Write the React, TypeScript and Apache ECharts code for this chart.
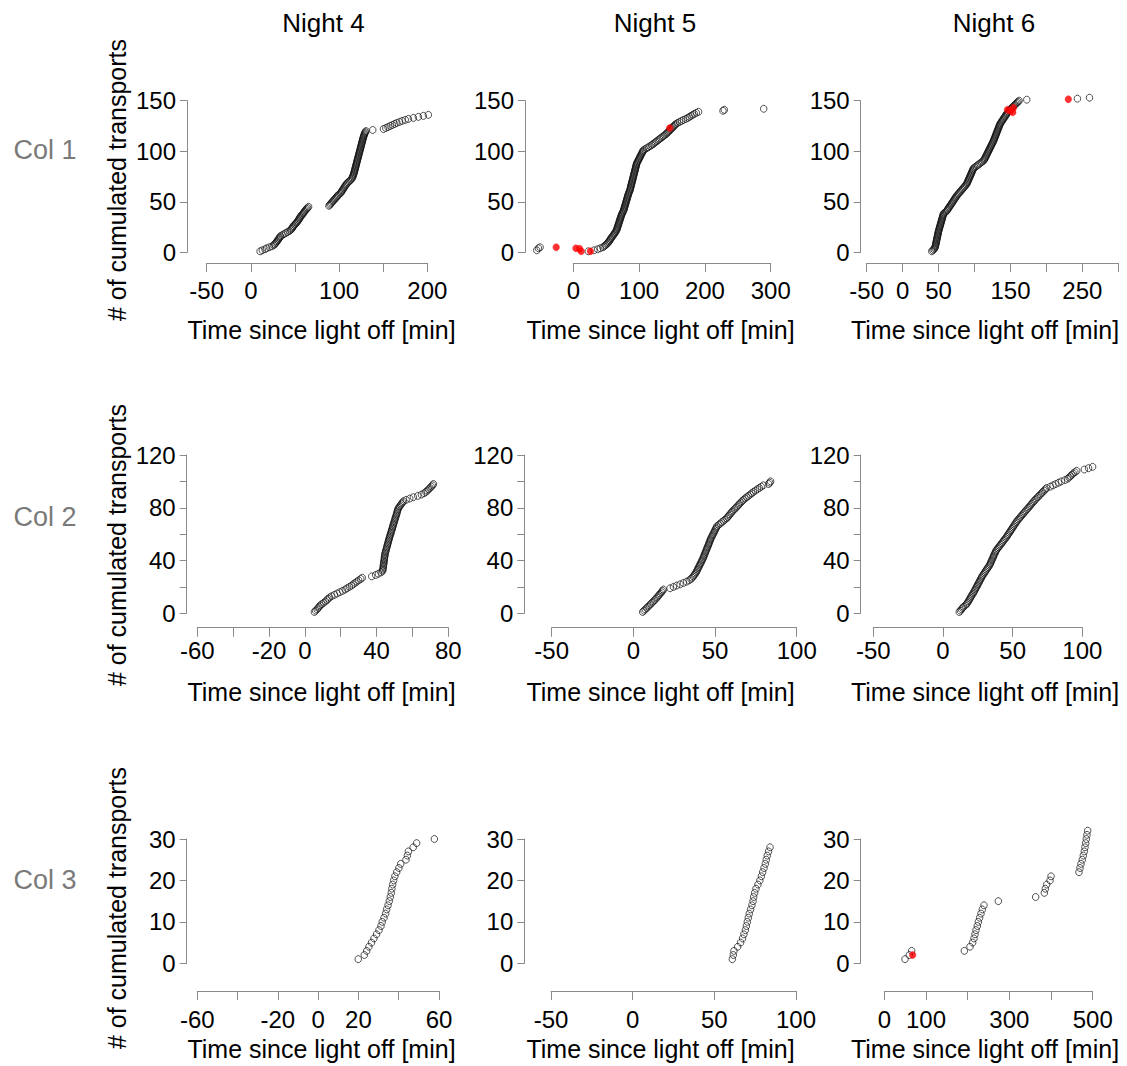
import React, { useEffect, useRef } from 'react';
import * as echarts from 'echarts';

// ---------------- DATA ----------------
const nightHeaders = ['Night 4', 'Night 5', 'Night 6'];
const colonyLabels = ['Col 1', 'Col 2', 'Col 3'];
const xAxisTitle = 'Time since light off [min]';
const yAxisTitle = '# of cumulated transports';

// [time since light off (min), cumulated transports]
const n4c1 = [[10.5,1],[13,2],[16,3],[18,4],[21,5],[24,6],[26,7],[27,8],[28,9],[29,10],[29.8,11],[30.6,12],[31.4,13],[32.2,14],[33,15],[33.6,16],[35.5,17],[37.5,18],[39.5,19],[41.5,20],[43.5,21],[45,22],[46,23],[47,24],[47.6,25],[48.2,26],[49.5,27],[50.5,28],[51.5,29],[52.5,30],[53.3,31],[54,32],[54.8,33],[55.5,34],[56,35],[57,36],[58,37],[59,38],[59.8,39],[60.5,40],[61.3,41],[62.3,42],[63.3,43],[64.3,44],[65.5,45],
[88.5,46],[89.5,47],[90.5,48],[91.5,49],[92.5,50],[93.5,51],[94.5,52],[95.5,53],[96.5,54],[97.5,55],[98.5,56],[99.5,57],[101,58],[102,59],[102.8,60],[103.5,61],[104.2,62],[105,63],[105.7,64],[106.4,65],[107.2,66],[108,67],[108.8,68],[110,69],[111.2,70],[112.4,71],[113.6,72],[114.6,73],[115.2,74],[115.6,75],[116,76],[116.4,77],[116.8,78],[117.1,79],[117.4,80],[117.7,81],[118,82],[118.3,83],[118.6,84],[118.9,85],[119.2,86],[119.5,87],[119.8,88],[120.1,89],[120.4,90],[120.7,91],[121,92],[121.3,93],[121.6,94],[121.9,95],[122.2,96],[122.5,97],[122.8,98],[123.1,99],[123.4,100],[123.7,101],[124,102],[124.3,103],[124.6,104],[124.9,105],[125.2,106],[125.5,107],[125.8,108],[126.1,109],[126.4,110],[126.7,111],[127,112],[127.3,113],[127.6,114],[128,115],[128.4,116],[128.8,117],[129.3,118],[129.8,119],[130.6,120],
[138.2,121],[150.3,122],[153,123],[155.5,124],[158,125],[160.5,126],[163,127],[165.5,128],[168.5,129],[171.5,130],[175,131],[178.6,132],[184.2,133],[189.9,134],[195.5,135],[201.2,136]];
const n4c1Red: number[][] = [];

const n5c1 = [[-55.5,2],[-53,4],[-50.5,5],
[22.7,1],[31.4,2],[37,3],[41,4],[45,5],[47,6],[49,7],[50.5,8],[52,9],[53.5,10],[54.5,11],[55.5,12],[56.5,13],[57.5,14],[58.5,15],[59.7,16],[61,17],[62,18],[63,19],[64,20],[65,21],[65.8,22],[66.3,23],[66.8,24],[67.3,25],[67.8,26],[68.3,27],[68.8,28],[69.3,29],[69.8,30],[70.3,31],[70.8,32],[71.3,33],[71.8,34],[72.3,35],[72.8,36],[73.3,37],[74,38],[74.7,39],[75.5,40],[76.2,41],[76.7,42],[77.2,43],[77.6,44],[78,45],[78.5,46],[79,47],[79.4,48],[79.8,49],[80.3,50],[80.8,51],[81.2,52],[81.6,53],[82.1,54],[82.6,55],[83,56],[83.4,57],[83.9,58],[84.5,59],[85.2,60],[85.9,61],[86.3,62],[86.7,63],[87.1,64],[87.4,65],[87.8,66],[88.2,67],[88.6,68],[89,69],[89.4,70],[89.8,71],[90.2,72],[90.6,73],[91,74],[91.3,75],[91.7,76],[92.1,77],[92.5,78],[92.9,79],[93.3,80],[93.7,81],[94.1,82],[94.5,83],[94.8,84],[95.2,85],[95.6,86],[96,87],[96.4,88],[97.2,89],[98,90],[98.8,91],[99.5,92],[100.3,93],[101,94],[101.8,95],[102.6,96],[103.4,97],[104.2,98],[105,99],[105.7,100],[106.5,101],[109,102],[111.5,103],[114,104],[116.5,105],[119,106],[121,107],[123,108],[125,109],[127,110],[129,111],[131,112],[133,113],[135,114],[137,115],[139,116],[141,117],[142.5,118],[144,119],[145.5,120],[147,121],[148.5,122],[150,123],[151.5,124],[153,125],[154.5,126],[156,127],[158.5,128],[161.5,129],[164.5,130],[167.5,131],[171,132],[174,133],[176.5,134],[179,135],[181.5,136],[184,137],[187,138],[190.4,139],[227.5,140],[229.5,141],[289.4,142]];
const n5c1Red = [[-26,5],[4,4],[9.5,3.5],[12,1],[26,1],[146.5,123]];

const n6c1 = [[40.5,1],[42,2],[43.5,3],[44.5,4],[45.2,5],[45.5,6],[45.8,7],[46.1,8],[46.4,9],[46.7,10],[47,11],[47.3,12],[47.6,13],[47.9,14],[48.2,15],[48.5,16],[48.8,17],[49.1,18],[49.4,19],[49.7,20],[50,21],[50.4,22],[50.8,23],[51.2,24],[51.6,25],[52,26],[52.4,27],[52.8,28],[53.2,29],[53.6,30],[54,31],[54.4,32],[54.8,33],[55.2,34],[55.6,35],[56,36],[56.4,37],[56.8,38],[58.3,39],[59.8,40],[61.4,41],[62.3,42],[63.2,43],[64.1,44],[65,45],[66,46],[67,47],[67.9,48],[68.8,49],[69.7,50],[70.7,51],[71.6,52],[72.5,53],[73.4,54],[74.4,55],[75.3,56],[76.5,57],[77.7,58],[78.9,59],[80.1,60],[81.3,61],[82.5,62],[83.7,63],[84.9,64],[86.1,65],[87.3,66],[88.5,67],[89.4,68],[90,69],[90.6,70],[91.2,71],[91.8,72],[92.4,73],[93,74],[93.7,75],[94.3,76],[94.9,77],[95.5,78],[96.1,79],[96.7,80],[97.3,81],[97.9,82],[98.5,83],[100.3,84],[102.2,85],[104,86],[105.9,87],[107.7,88],[109.6,89],[111.4,90],[113,91],[113.7,92],[114.4,93],[115.1,94],[115.8,95],[116.5,96],[117.2,97],[117.9,98],[118.6,99],[119.3,100],[120,101],[120.7,102],[121.4,103],[122.1,104],[122.8,105],[123.5,106],[124.2,107],[124.9,108],[125.6,109],[126.3,110],[126.8,111],[127.4,112],[127.9,113],[128.5,114],[129,115],[129.6,116],[130.1,117],[130.6,118],[131.2,119],[131.7,120],[132.3,121],[132.8,122],[133.4,123],[133.9,124],[134.4,125],[135,126],[135.5,127],[136.4,128],[137.4,129],[138.3,130],[139.2,131],[140.2,132],[141.1,133],[142,134],[143,135],[143.9,136],[144.8,137],[146,138],[147.1,139],[148.3,140],[149.5,141],[150.6,142],[151.8,143],[153.3,144],[154.7,145],[156.2,146],[157.6,147],[159.1,148],[160.5,149],[162,150],[172.7,151],[243.1,152],[259.9,153]];
const n6c1Red = [[145.8,141],[150,140],[153.2,138.5],[154.1,143],[230.5,151.5]];

const n4c2 = [[5.3,1],[6,2],[6.8,3],[7.4,4],[8,5],[8.6,6],[9.5,7],[10.5,8],[11.5,9],[12.3,10],[13,11],[13.8,12],[15,13],[16.5,14],[18,15],[19.5,16],[21,17],[22.5,18],[23.5,19],[24.8,20],[26,21],[27,22],[28,23],[29,24],[30,25],[31.2,26],[32,27],[37.3,28],[39.5,29],[41,30],[42.5,31],[43.3,32],[43.5,33],[43.6,34],[43.7,35],[43.8,36],[43.9,37],[44,38],[44.1,39],[44.2,40],[44.3,41],[44.4,42],[44.5,43],[44.6,44],[44.7,45],[44.9,46],[45.1,47],[45.3,48],[45.5,49],[45.7,50],[45.9,51],[46.1,52],[46.3,53],[46.5,54],[46.7,55],[46.9,56],[47.1,57],[47.3,58],[47.5,59],[47.8,60],[48,61],[48.2,62],[48.4,63],[48.7,64],[48.9,65],[49.1,66],[49.3,67],[49.5,68],[49.8,69],[50,70],[50.2,71],[50.4,72],[50.6,73],[50.9,74],[51.1,75],[51.3,76],[51.5,77],[51.7,78],[52,79],[52.3,80],[52.8,81],[53.4,82],[53.9,83],[54.5,84],[55,85],[56.5,86],[58.5,87],[60.5,88],[63,89],[65,90],[66.5,91],[67.5,92],[68.3,93],[69,94],[69.8,95],[70.5,96],[71.2,97],[71.7,98]];

const n5c2 = [[5.7,1],[6.5,2],[7.3,3],[8.2,4],[9,5],[9.8,6],[10.6,7],[11.4,8],[12.2,9],[13,10],[13.8,11],[14.5,12],[15.2,13],[15.8,14],[16.5,15],[17.2,16],[17.8,17],[18.4,18],[22.5,19],[24.5,20],[26.5,21],[28.6,22],[30.6,23],[32.6,24],[34.2,25],[35.3,26],[36,27],[36.7,28],[37.3,29],[37.9,30],[38.4,31],[38.8,32],[39.2,33],[39.6,34],[40,35],[40.4,36],[40.8,37],[41.2,38],[41.6,39],[42,40],[42.4,41],[42.8,42],[43.1,43],[43.4,44],[43.7,45],[44,46],[44.4,47],[44.7,48],[45,49],[45.3,50],[45.7,51],[46,52],[46.3,53],[46.6,54],[46.9,55],[47.2,56],[47.6,57],[48,58],[48.4,59],[48.8,60],[49.2,61],[49.6,62],[50,63],[50.4,64],[50.8,65],[51.2,66],[52.2,67],[53.2,68],[54.1,69],[55.1,70],[56.1,71],[57.1,72],[57.8,73],[58.4,74],[59.1,75],[59.8,76],[60.4,77],[61.1,78],[62,79],[62.8,80],[63.5,81],[64.3,82],[65,83],[65.8,84],[66.6,85],[67.4,86],[68.4,87],[69.4,88],[70.4,89],[71.5,90],[72.5,91],[73.5,92],[74.7,93],[75.9,94],[77.1,95],[78.3,96],[79.6,97],[82.8,98],[83.5,99],[84,100]];

const n6c2 = [[11.7,1],[12.5,2],[13.3,3],[14,4],[14.8,5],[16,6],[17,7],[17.6,8],[18.2,9],[18.8,10],[19.3,11],[19.8,12],[20.4,13],[20.9,14],[21.6,15],[22.1,16],[22.6,17],[23.1,18],[23.6,19],[24.1,20],[24.6,21],[25.1,22],[25.6,23],[26.1,24],[26.6,25],[27.1,26],[27.6,27],[28.1,28],[28.7,29],[29.4,30],[30,31],[30.6,32],[31.2,33],[31.9,34],[32.5,35],[33.2,36],[33.8,37],[34.1,38],[34.5,39],[34.9,40],[35.4,41],[35.8,42],[36.2,43],[36.6,44],[37,45],[37.5,46],[37.9,47],[38.4,48],[39.2,49],[39.9,50],[40.6,51],[41.4,52],[42.1,53],[42.8,54],[43.5,55],[44.2,56],[45,57],[45.7,58],[46.3,59],[46.9,60],[47.6,61],[48.2,62],[48.8,63],[49.4,64],[50.1,65],[50.7,66],[51.3,67],[51.9,68],[52.6,69],[53.2,70],[54,71],[54.8,72],[55.6,73],[56.4,74],[57.2,75],[58,76],[58.8,77],[59.6,78],[60.5,79],[61.3,80],[62.1,81],[62.9,82],[63.7,83],[64.5,84],[65.3,85],[66.1,86],[67,87],[68,88],[68.9,89],[69.8,90],[70.7,91],[71.6,92],[72.6,93],[73.5,94],[74.4,95],[77,96],[79,97],[81,98],[83,99],[85,100],[87.5,101],[89.5,102],[90.5,103],[91.5,104],[92.5,105],[93.5,106],[94.7,107],[96,108],[101.5,109],[104.5,110],[107.4,111]];

const n4c3 = [[19.9,1],[22.9,2],[24.1,3],[25.2,4],[26.5,5],[27.7,6],[29,7],[30.2,8],[31.2,9],[31.8,10],[32.7,11],[33.5,12],[34,13],[34.7,14],[35.3,15],[35.8,16],[36.3,17],[36.6,18],[37,19],[37.5,20],[38.1,21],[39,22],[40.1,23],[41,24],[43.6,25],[44.3,26],[44.8,27],[47.2,28],[48.9,29],[57.7,30]];

const n5c3 = [[61,1],[61.6,2],[62,3],[64.3,4],[66.1,5],[67.3,6],[68.1,7],[69,8],[69.6,9],[70.2,10],[70.8,11],[71.4,12],[72.2,13],[73,14],[73.7,15],[74.1,16],[74.7,17],[75.5,18],[76.7,19],[77.9,20],[78.8,21],[79.6,22],[80.4,23],[81.2,24],[81.8,25],[82.4,26],[83.2,27],[84.1,28]];

const n6c3 = [[49.7,1],[60,2],[65.6,3],[192,3],[205.6,4],[212,5],[215.2,6],[217.6,7],[220,8],[223.2,9],[225.6,10],[228.8,11],[232,12],[235.2,13],[239.2,14],[273.6,15],[363.2,16],[384,17],[386.4,18],[389.6,19],[397.6,20],[400,21],[467.1,22],[469.5,23],[471.9,24],[475.1,25],[477.5,26],[479.9,27],[481.5,28],[483.1,29],[484.7,30],[486.3,31],[487.9,32]];
const n6c3Red = [[68,2]];

// axis ranges [min, max, tick step] and the tick labels that are printed
const xRangeN4C1 = [-50, 200, 50];  const xLabelsN4C1 = [-50, 0, 100, 200];
const xRangeN5C1 = [0, 300, 100];   const xLabelsN5C1 = [0, 100, 200, 300];
const xRangeN6C1 = [-50, 300, 50];  const xLabelsN6C1 = [-50, 0, 50, 150, 250];
const xRangeN4C2 = [-60, 80, 20];   const xLabelsN4C2 = [-60, -20, 0, 40, 80];
const xRangeN5C2 = [-50, 100, 50];  const xLabelsN5C2 = [-50, 0, 50, 100];
const xRangeN6C2 = [-50, 100, 50];  const xLabelsN6C2 = [-50, 0, 50, 100];
const xRangeN4C3 = [-60, 60, 20];   const xLabelsN4C3 = [-60, -20, 0, 20, 60];
const xRangeN5C3 = [-50, 100, 50];  const xLabelsN5C3 = [-50, 0, 50, 100];
const xRangeN6C3 = [0, 500, 100];   const xLabelsN6C3 = [0, 100, 300, 500];
const yRangeC1 = [0, 150, 50];  const yLabelsC1 = [0, 50, 100, 150];
const yRangeC2 = [0, 120, 20];  const yLabelsC2 = [0, 40, 80, 120];
const yRangeC3 = [0, 30, 10];   const yLabelsC3 = [0, 10, 20, 30];

// ---------------- LAYOUT ----------------
const FONT = '"Liberation Sans", Arial, Helvetica, sans-serif';
const AXIS_COLOR = '#8a8a8a';

const rowLayout = [
  { top: 100.7, height: 151.6, xOff: 10.7, xMargin: 15.5, labelY: 150, yTitleY: 180, xTitleY: 329.5 },
  { top: 455, height: 158.3, xOff: 14.4, xMargin: 10.5, labelY: 517, yTitleY: 545, xTitleY: 691.5 },
  { top: 839, height: 124.3, xOff: 27.7, xMargin: 16, labelY: 880, yTitleY: 908, xTitleY: 1049 },
];
const colTitleX = [321.5, 660.5, 985];
const headerX = [323.5, 655, 994];

const panels = [
  { row: 0, left: 206.7, width: 220.6, yOff: 19.7, xr: xRangeN4C1, xl: xLabelsN4C1, yr: yRangeC1, yl: yLabelsC1, data: n4c1, red: n4c1Red },
  { row: 0, left: 573.3, width: 197.4, yOff: 48.3, xr: xRangeN5C1, xl: xLabelsN5C1, yr: yRangeC1, yl: yLabelsC1, data: n5c1, red: n5c1Red },
  { row: 0, left: 866.7, width: 251.6, yOff: 6, xr: xRangeN6C1, xl: xLabelsN6C1, yr: yRangeC1, yl: yLabelsC1, data: n6c1, red: n6c1Red },
  { row: 1, left: 197.3, width: 251, yOff: 10.6, xr: xRangeN4C2, xl: xLabelsN4C2, yr: yRangeC2, yl: yLabelsC2, data: n4c2, red: [] },
  { row: 1, left: 551.7, width: 245, yOff: 27.4, xr: xRangeN5C2, xl: xLabelsN5C2, yr: yRangeC2, yl: yLabelsC2, data: n5c2, red: [] },
  { row: 1, left: 873.3, width: 209, yOff: 12.6, xr: xRangeN6C2, xl: xLabelsN6C2, yr: yRangeC2, yl: yLabelsC2, data: n6c2, red: [] },
  { row: 2, left: 197.3, width: 241.7, yOff: 10.6, xr: xRangeN4C3, xl: xLabelsN4C3, yr: yRangeC3, yl: yLabelsC3, data: n4c3, red: [] },
  { row: 2, left: 551, width: 245, yOff: 26.7, xr: xRangeN5C3, xl: xLabelsN5C3, yr: yRangeC3, yl: yLabelsC3, data: n5c3, red: [] },
  { row: 2, left: 884.3, width: 208.4, yOff: 23.6, xr: xRangeN6C3, xl: xLabelsN6C3, yr: yRangeC3, yl: yLabelsC3, data: n6c3, red: n6c3Red },
];

const labelFormatter = (shown: number[]) => (v: number) =>
  shown.some((s) => Math.abs(s - v) < 1e-6) ? String(Math.round(v)) : '';

function buildOption() {
  const grid = panels.map((p) => ({
    left: p.left,
    top: rowLayout[p.row].top,
    width: p.width,
    height: rowLayout[p.row].height,
    containLabel: false,
    outerBoundsMode: 'none',
  }));
  const xAxis = panels.map((p, i) => ({
    type: 'value',
    gridIndex: i,
    position: 'bottom',
    min: p.xr[0],
    max: p.xr[1],
    interval: p.xr[2],
    offset: rowLayout[p.row].xOff,
    axisLine: { show: true, onZero: false, lineStyle: { color: AXIS_COLOR, width: 1 } },
    axisTick: { show: true, inside: false, length: 9, lineStyle: { color: AXIS_COLOR, width: 1 } },
    axisLabel: {
      show: true, showMinLabel: true, showMaxLabel: true, hideOverlap: false,
      margin: rowLayout[p.row].xMargin, fontSize: 24, fontFamily: FONT, color: '#000',
      formatter: labelFormatter(p.xl),
    },
    splitLine: { show: false },
  }));
  const yAxis = panels.map((p, i) => ({
    type: 'value',
    gridIndex: i,
    position: 'left',
    min: p.yr[0],
    max: p.yr[1],
    interval: p.yr[2],
    offset: p.yOff,
    axisLine: { show: true, onZero: false, lineStyle: { color: AXIS_COLOR, width: 1 } },
    axisTick: { show: true, inside: false, length: 7, lineStyle: { color: AXIS_COLOR, width: 1 } },
    axisLabel: {
      show: true, showMinLabel: true, showMaxLabel: true, hideOverlap: false,
      margin: 11, fontSize: 24, fontFamily: FONT, color: '#000',
      formatter: labelFormatter(p.yl),
    },
    splitLine: { show: false },
  }));
  const series: any[] = [];
  panels.forEach((p, i) => {
    series.push({
      type: 'scatter', xAxisIndex: i, yAxisIndex: i, data: p.data,
      symbol: 'circle', symbolSize: [6.5, 7], clip: false, silent: true,
      itemStyle: { color: 'rgba(0,0,0,0)', borderColor: '#111', borderWidth: 0.9 },
      emphasis: { disabled: true },
    });
    if (p.red.length) {
      series.push({
        type: 'scatter', xAxisIndex: i, yAxisIndex: i, data: p.red,
        symbol: 'circle', symbolSize: [6.5, 7], clip: false, silent: true,
        itemStyle: { color: '#ff0000', borderColor: '#ff0000', borderWidth: 0.5 },
        emphasis: { disabled: true },
      });
    }
  });

  const graphic: any[] = [];
  nightHeaders.forEach((t, c) => {
    graphic.push({ type: 'text', x: headerX[c], y: 23.3, silent: true,
      style: { text: t, fontSize: 26, fontFamily: FONT, fill: '#000', align: 'center', verticalAlign: 'middle' } });
  });
  colonyLabels.forEach((t, r) => {
    graphic.push({ type: 'text', x: 45, y: rowLayout[r].labelY, silent: true,
      style: { text: t, fontSize: 27, fontFamily: FONT, fill: '#7a7a7a', align: 'center', verticalAlign: 'middle' } });
    graphic.push({ type: 'text', x: 116.5, y: rowLayout[r].yTitleY, rotation: Math.PI / 2, silent: true,
      style: { text: yAxisTitle, fontSize: 25, fontFamily: FONT, fill: '#000', align: 'center', verticalAlign: 'middle' } });
    colTitleX.forEach((cx) => {
      graphic.push({ type: 'text', x: cx, y: rowLayout[r].xTitleY, silent: true,
        style: { text: xAxisTitle, fontSize: 25, fontFamily: FONT, fill: '#000', align: 'center', verticalAlign: 'middle' } });
    });
  });

  return {
    animation: false,
    backgroundColor: '#ffffff',
    grid, xAxis, yAxis, series, graphic,
  };
}

export default function App() {
  const ref = useRef<HTMLDivElement>(null);
  useEffect(() => {
    if (!ref.current) return;
    const chart = echarts.init(ref.current, null, { renderer: 'svg' });
    chart.setOption(buildOption() as any);
    return () => chart.dispose();
  }, []);
  return (
    <div
      ref={ref}
      style={{ position: 'absolute', left: 0, top: 0, width: 1127, height: 1066, background: '#fff' }}
    />
  );
}
